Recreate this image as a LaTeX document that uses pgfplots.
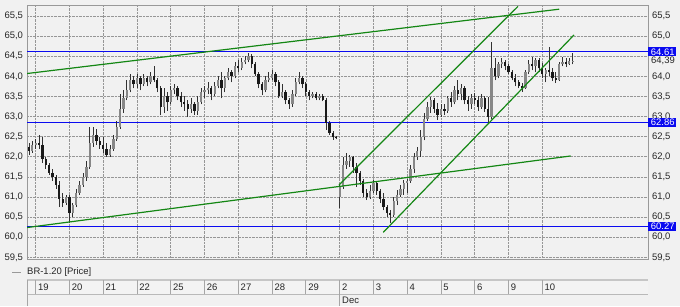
\documentclass[border=0pt]{standalone}
\usepackage{pgfplots}
\usepackage{pgfplotstable}
\usepackage{fontspec}
\setmainfont{Liberation Sans}
\pgfplotsset{compat=1.18}
\definecolor{bgc}{RGB}{241,241,241}
\definecolor{gridc}{RGB}{150,150,150}
\definecolor{chblue}{RGB}{10,10,240}
\definecolor{chgreen}{RGB}{20,135,20}
\definecolor{wick}{RGB}{50,50,50}
\definecolor{upc}{RGB}{135,135,135}
\definecolor{dnc}{RGB}{25,25,25}
\pgfplotstableread{
x o h l c
-0.2 62.25 62.35 62.05 62.15
-0.1 62.15 62.40 62.10 62.30
0.0 62.30 62.45 62.20 62.35
0.1 62.35 62.55 62.20 62.30
0.2 62.30 62.50 61.85 61.95
0.3 61.95 62.00 61.70 61.80
0.4 61.80 61.85 61.55 61.60
0.5 61.60 61.70 61.40 61.50
0.6 61.50 61.55 61.20 61.30
0.7 61.30 61.40 60.75 60.95
0.8 60.95 61.10 60.75 60.85
0.9 60.85 61.05 60.80 61.00
1.0 61.00 61.05 60.35 60.60
1.1 60.60 60.85 60.50 60.80
1.2 60.80 61.20 60.75 61.10
1.3 61.10 61.40 61.05 61.30
1.4 61.30 61.60 61.25 61.50
1.5 61.50 61.90 61.40 61.75
1.6 61.75 62.75 61.70 62.35
1.7 62.35 62.75 62.25 62.55
1.8 62.55 62.70 62.30 62.40
1.9 62.40 62.50 62.20 62.30
2.0 62.30 62.50 62.10 62.20
2.1 62.20 62.35 62.00 62.05
2.2 62.05 62.30 62.00 62.20
2.3 62.20 62.55 62.15 62.45
2.4 62.45 62.90 62.40 62.75
2.5 62.75 63.55 62.70 63.20
2.6 63.20 63.65 63.10 63.45
2.7 63.45 63.90 63.40 63.65
2.8 63.65 64.05 63.60 63.90
2.9 63.90 64.00 63.70 63.80
3.0 63.80 64.05 63.70 63.95
3.1 63.95 64.00 63.65 63.80
3.2 63.80 64.05 63.75 63.95
3.3 63.95 64.00 63.75 63.85
3.4 63.85 64.10 63.80 64.00
3.5 64.00 64.25 63.85 63.90
3.6 63.90 63.95 63.60 63.70
3.7 63.70 63.75 63.03 63.25
3.8 63.25 63.70 63.10 63.50
3.9 63.50 63.60 63.15 63.35
4.0 63.35 63.75 63.30 63.65
4.1 63.65 63.80 63.55 63.70
4.2 63.70 63.75 63.40 63.50
4.3 63.50 63.60 63.25 63.35
4.4 63.35 63.50 63.15 63.30
4.5 63.30 63.40 62.99 63.20
4.6 63.20 63.45 63.10 63.30
4.7 63.30 63.35 63.05 63.15
4.8 63.15 63.50 63.05 63.35
4.9 63.35 63.70 63.30 63.60
5.0 63.60 63.75 63.45 63.65
5.1 63.65 63.85 63.55 63.70
5.2 63.70 63.75 63.40 63.55
5.3 63.55 63.85 63.50 63.75
5.4 63.75 64.00 63.70 63.90
5.5 63.90 64.10 63.45 63.70
5.6 63.70 64.00 63.60 63.95
5.7 63.95 64.20 63.90 64.10
5.8 64.10 64.15 63.85 64.00
5.9 64.00 64.35 63.95 64.25
6.0 64.25 64.40 64.10 64.20
6.1 64.20 64.45 64.15 64.35
6.2 64.35 64.50 64.30 64.40
6.3 64.40 64.58 64.35 64.50
6.4 64.50 64.55 64.20 64.30
6.5 64.30 64.35 64.00 64.05
6.6 64.05 64.10 63.70 63.80
6.7 63.80 63.85 63.53 63.65
6.8 63.65 64.00 63.60 63.90
6.9 63.90 64.10 63.85 63.95
7.0 63.95 64.15 63.90 64.05
7.1 64.05 64.10 63.75 63.85
7.2 63.85 63.90 63.45 63.50
7.3 63.50 63.80 63.45 63.60
7.4 63.60 63.65 63.30 63.40
7.5 63.40 63.45 63.20 63.30
7.6 63.30 63.65 63.25 63.55
7.7 63.55 63.95 63.50 63.85
7.8 63.85 64.10 63.80 63.95
7.9 63.95 64.00 63.70 63.80
8.0 63.80 63.85 63.50 63.60
8.1 63.60 63.65 63.40 63.50
8.2 63.50 63.60 63.45 63.55
8.3 63.55 63.60 63.40 63.45
8.4 63.45 63.55 63.40 63.50
8.5 63.50 63.55 63.38 63.42
8.6 63.42 63.45 62.66 62.85
8.7 62.85 62.90 62.55 62.60
8.8 62.60 62.65 62.42 62.48
8.9 62.48 62.52 62.43 62.46
9.0 61.00 61.30 60.72 61.25
9.1 61.25 62.00 61.20 61.80
9.2 61.80 62.09 61.70 61.90
9.3 61.90 62.05 61.75 62.00
9.4 62.00 62.02 61.60 61.75
9.5 61.75 61.85 61.25 61.60
9.6 61.60 61.65 61.30 61.40
9.7 61.40 61.45 61.00 61.10
9.8 61.10 61.20 60.92 61.00
9.9 61.00 61.30 60.95 61.15
10.0 61.15 61.42 61.10 61.35
10.1 61.35 61.40 61.05 61.15
10.2 61.15 61.20 60.85 60.95
10.3 60.95 61.10 60.67 60.75
10.4 60.75 60.80 60.50 60.60
10.5 60.60 60.67 60.35 60.55
10.6 60.55 61.00 60.50 60.90
10.7 60.90 61.17 60.80 61.05
10.8 61.05 61.30 61.00 61.20
10.9 61.20 61.42 61.05 61.35
11.0 61.35 61.45 61.10 61.40
11.1 61.40 61.80 61.35 61.70
11.2 61.70 62.10 61.60 62.00
11.3 62.00 62.24 61.92 62.15
11.4 62.15 62.66 62.00 62.50
11.5 62.50 63.09 62.41 62.95
11.6 62.95 63.35 62.90 63.25
11.7 63.25 63.48 63.10 63.40
11.8 63.40 63.45 63.10 63.20
11.9 63.20 63.33 62.91 63.05
12.0 63.05 63.30 63.00 63.20
12.1 63.20 63.30 63.05 63.15
12.2 63.15 63.50 63.10 63.45
12.3 63.45 63.60 63.24 63.35
12.4 63.35 63.75 63.30 63.65
12.5 63.65 63.90 63.40 63.55
12.6 63.55 63.80 63.40 63.70
12.7 63.70 63.75 63.30 63.40
12.8 63.40 63.50 63.15 63.30
12.9 63.30 63.55 63.20 63.45
13.0 63.45 63.58 63.30 63.40
13.1 63.40 63.50 63.15 63.25
13.2 63.25 63.55 63.20 63.45
13.3 63.45 63.50 63.11 63.20
13.4 63.20 63.48 62.84 63.00
13.5 63.00 64.85 62.95 64.20
13.6 64.20 64.45 63.90 64.00
13.7 64.00 64.35 63.95 64.30
13.8 64.30 64.45 64.20 64.35
13.9 64.35 64.40 64.15 64.25
14.0 64.25 64.30 64.05 64.10
14.1 64.10 64.16 63.90 63.95
14.2 63.95 64.05 63.75 63.85
14.3 63.85 63.90 63.70 63.75
14.4 63.75 63.83 63.62 63.70
14.5 63.70 64.15 63.68 64.10
14.6 64.10 64.40 64.05 64.30
14.7 64.30 64.48 64.15 64.25
14.8 64.25 64.45 64.10 64.40
14.9 64.40 64.45 64.10 64.20
15.0 64.20 64.33 63.95 64.05
15.1 64.05 64.20 63.85 64.15
15.2 64.15 64.73 64.00 64.10
15.3 64.10 64.20 63.88 63.95
15.4 63.95 64.10 63.83 63.90
15.5 63.90 64.35 63.88 64.30
15.6 64.30 64.48 64.25 64.35
15.7 64.35 64.45 64.23 64.30
15.8 64.30 64.45 64.28 64.38
15.9 64.38 64.58 64.30 64.39
}\candles
\begin{document}
\begin{tikzpicture}[x=1bp,y=1bp]
\fill[bgc] (0,0) rectangle (680,306);
\path[use as bounding box] (0,0) rectangle (680,306);
\pgfplotsset{
  chartbase/.style={
    at={(27bp,47bp)}, anchor=south west, scale only axis,
    width=621bp, height=254bp,
    xmin=-0.2576, xmax=18.13, ymin=59.458, ymax=65.774,
    tick style={draw=none},
    yticklabel style={font=\fontsize{9.5}{10}\selectfont, text=black!85},
    y tick label style={/pgf/number format/fixed, /pgf/number format/fixed zerofill,
      /pgf/number format/precision=1, /pgf/number format/use comma,
      /pgf/number format/assume math mode=true},
  }
}
\begin{axis}[chartbase,
  ytick={59.5,60,60.5,61,61.5,62,62.5,63,63.5,64,64.5,65,65.5},
  xtick={0,1,...,15}, xticklabels={},
  grid=major, grid style={densely dotted, gridc, line width=0.6bp},
  axis line style={gray!80, line width=0.8bp},
  yticklabel style={xshift=-0.5bp},
]
% blue horizontal levels
\addplot[chblue, line width=1.3bp] coordinates {(-0.2576,64.61) (18.13,64.61)};
\addplot[chblue, line width=1.3bp] coordinates {(-0.2576,62.86) (18.13,62.86)};
\addplot[chblue, line width=1.3bp] coordinates {(-0.2576,60.27) (18.13,60.27)};
% candles: wicks (low to high)
\addplot[wick, line width=0.8bp, forget plot, mark=none, -,
  quiver={u=0, v=\thisrow{h}-\thisrow{l}}]
  table[x=x, y=l] {\candles};
% up bodies (open to close)
\addplot[upc, line width=2.3bp, forget plot, mark=none, -,
  restrict expr to domain={\thisrow{c}-\thisrow{o}}{0.001:100},
  quiver={u=0, v=\thisrow{c}-\thisrow{o}}]
  table[x=x, y=o] {\candles};
% down bodies (close to open)
\addplot[dnc, line width=2.3bp, forget plot, mark=none, -,
  restrict expr to domain={\thisrow{o}-\thisrow{c}}{0.001:100},
  quiver={u=0, v=\thisrow{o}-\thisrow{c}}]
  table[x=x, y=c] {\candles};
% green trend lines
\addplot[chgreen, line width=1.2bp] coordinates {(-0.2576,64.07) (15.5,65.67)};
\addplot[chgreen, line width=1.2bp] coordinates {(-0.2576,60.24) (15.84,62.02)};
\addplot[chgreen, line width=1.2bp] coordinates {(8.98,61.3) (14.28,65.74)};
\addplot[chgreen, line width=1.2bp] coordinates {(10.29,60.12) (15.94,65.03)};
\end{axis}
\begin{axis}[chartbase,
  ytick={59.5,60,60.5,61,61.5,62,62.5,63,63.5,64,65,65.5},
  axis x line=none, axis y line*=right, axis line style={draw=none},
  yticklabel pos=right, clip=false,
  yticklabel style={xshift=0.5bp},
]
\addplot[draw=none] coordinates {(0,60) (1,61)};
\node[fill=chblue, text=white, anchor=west, inner xsep=1.2bp, inner ysep=0bp, minimum height=8.7bp, font=\fontsize{9.5}{10}\selectfont] at (axis cs:18.13,64.61) {\hspace*{1.5bp}64.61};
\node[text=black!85, anchor=west, inner sep=0.5bp, font=\fontsize{9.5}{10}\selectfont] at (axis cs:18.13,64.38) {\hspace*{2.5bp}64,39};
\node[fill=chblue, text=white, anchor=west, inner xsep=1.2bp, inner ysep=0bp, minimum height=8.7bp, font=\fontsize{9.5}{10}\selectfont] at (axis cs:18.13,62.86) {\hspace*{1.5bp}62.86};
\node[fill=chblue, text=white, anchor=west, inner xsep=1.2bp, inner ysep=0bp, minimum height=8.7bp, font=\fontsize{9.5}{10}\selectfont] at (axis cs:18.13,60.27) {\hspace*{1.5bp}60.27};
\end{axis}
% legend line
\draw[gray!80, line width=1bp] (12,34) -- (21,34);
\node[anchor=west, inner sep=0, font=\fontsize{9.5}{10}\selectfont, text=black!85] at (27,34) {BR-1.20 [Price]};
% date strip
\fill[bgc!90!white] (27,12) rectangle (648,26);
\draw[gray!45, line width=1.6bp] (27,26) -- (648,26);
\draw[gray!55, line width=0.8bp] (27,12) -- (648,12);
\draw[gray!70, line width=0.8bp] (27,0) -- (27,26);
\foreach \d/\lab in {0/19,1/20,2/21,3/22,4/25,5/26,6/27,7/28,8/29,9/2,10/3,11/4,12/5,13/6,14/9,15/10}{
  \pgfmathsetmacro{\px}{35.7+33.773*\d}
  \draw[gray!70, line width=0.8bp] (\px,12) -- (\px,26);
  \node[anchor=west, inner sep=0, font=\fontsize{9.5}{10}\selectfont, text=black!85] at (\px+2.2,19) {\lab};
}
\draw[gray!70, line width=0.8bp] (339.7,0) -- (339.7,12);
\node[anchor=west, inner sep=0, font=\fontsize{9.5}{10}\selectfont, text=black!85] at (342,5.5) {Dec};
\end{tikzpicture}
\end{document}
